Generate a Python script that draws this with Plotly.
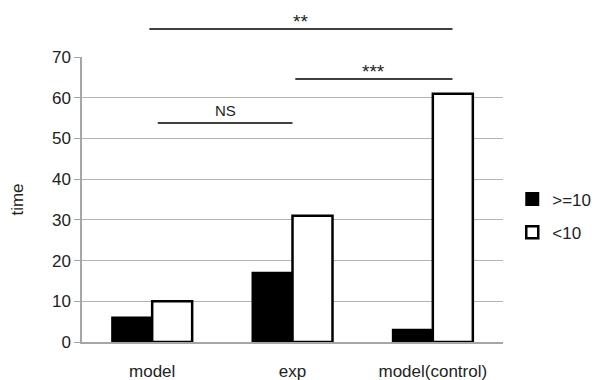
import plotly.graph_objects as go

categories = ["model", "exp", "model(control)"]
ge10 = [6, 17, 3]
lt10 = [10, 31, 61]
y_ticks = [0, 10, 20, 30, 40, 50, 60, 70]

# significance brackets: (start index, end index, level, label)
sig_start = [0.04, 1.02, -0.02]
sig_end = [1.0, 2.14, 2.14]
sig_level = [53.8, 64.6, 76.9]
sig_label = ["NS", "***", "**"]

fig = go.Figure()
fig.add_trace(go.Bar(x=categories, y=ge10, name=">=10",
                     marker=dict(color="black", line=dict(color="black", width=2)),
                     legendgroup="a"))
fig.add_trace(go.Bar(x=categories, y=lt10, name="<10",
                     marker=dict(color="white", line=dict(color="black", width=2.5)),
                     legendgroup="b"))

ymax = 70
for s, e, lvl, lab in zip(sig_start, sig_end, sig_level, sig_label):
    is_star = lab.startswith("*")
    fig.add_shape(type="line", xref="x", yref="paper", x0=s, x1=e,
                  y0=lvl / ymax, y1=lvl / ymax,
                  line=dict(color="black", width=1.5))
    fig.add_annotation(xref="x", yref="paper", x=(s + e) / 2, y=lvl / ymax,
                       text=lab, showarrow=False, yanchor="bottom",
                       yshift=-5 if is_star else 2,
                       font=dict(family="Liberation Sans",
                                 size=19 if is_star else 15, color="#222"))

fig.update_layout(
    width=596, height=380,
    margin=dict(l=82, r=93, t=57, b=38, autoexpand=False),
    paper_bgcolor="white", plot_bgcolor="white",
    barmode="group", bargap=0.43, bargroupgap=0,
    font=dict(family="Liberation Sans", size=17, color="#222"),
    showlegend=True,
    legend=dict(x=1.022, y=0.442, xanchor="left", yanchor="middle",
                font=dict(size=17), tracegroupgap=8, traceorder="grouped",
                itemwidth=30),
)
fig.update_xaxes(showline=True, linecolor="#a6a6a6", linewidth=1.5,
                 ticks="", tickfont=dict(size=17), ticklabelstandoff=13,
                 automargin=False)
fig.update_yaxes(range=[0, ymax], tickvals=y_ticks, showgrid=True,
                 gridcolor="#b3b3b3", gridwidth=1.2, showline=True,
                 linecolor="#a6a6a6", linewidth=1.5, ticks="outside",
                 ticklen=6, tickcolor="#a6a6a6", zeroline=False,
                 tickfont=dict(size=17), automargin=False,
                 title=dict(text="time", font=dict(size=17), standoff=24))

fig.write_html(
    "out.html",
    config={"displayModeBar": False},
    post_script="document.body.style.margin='0';document.body.style.overflow='hidden';",
)
